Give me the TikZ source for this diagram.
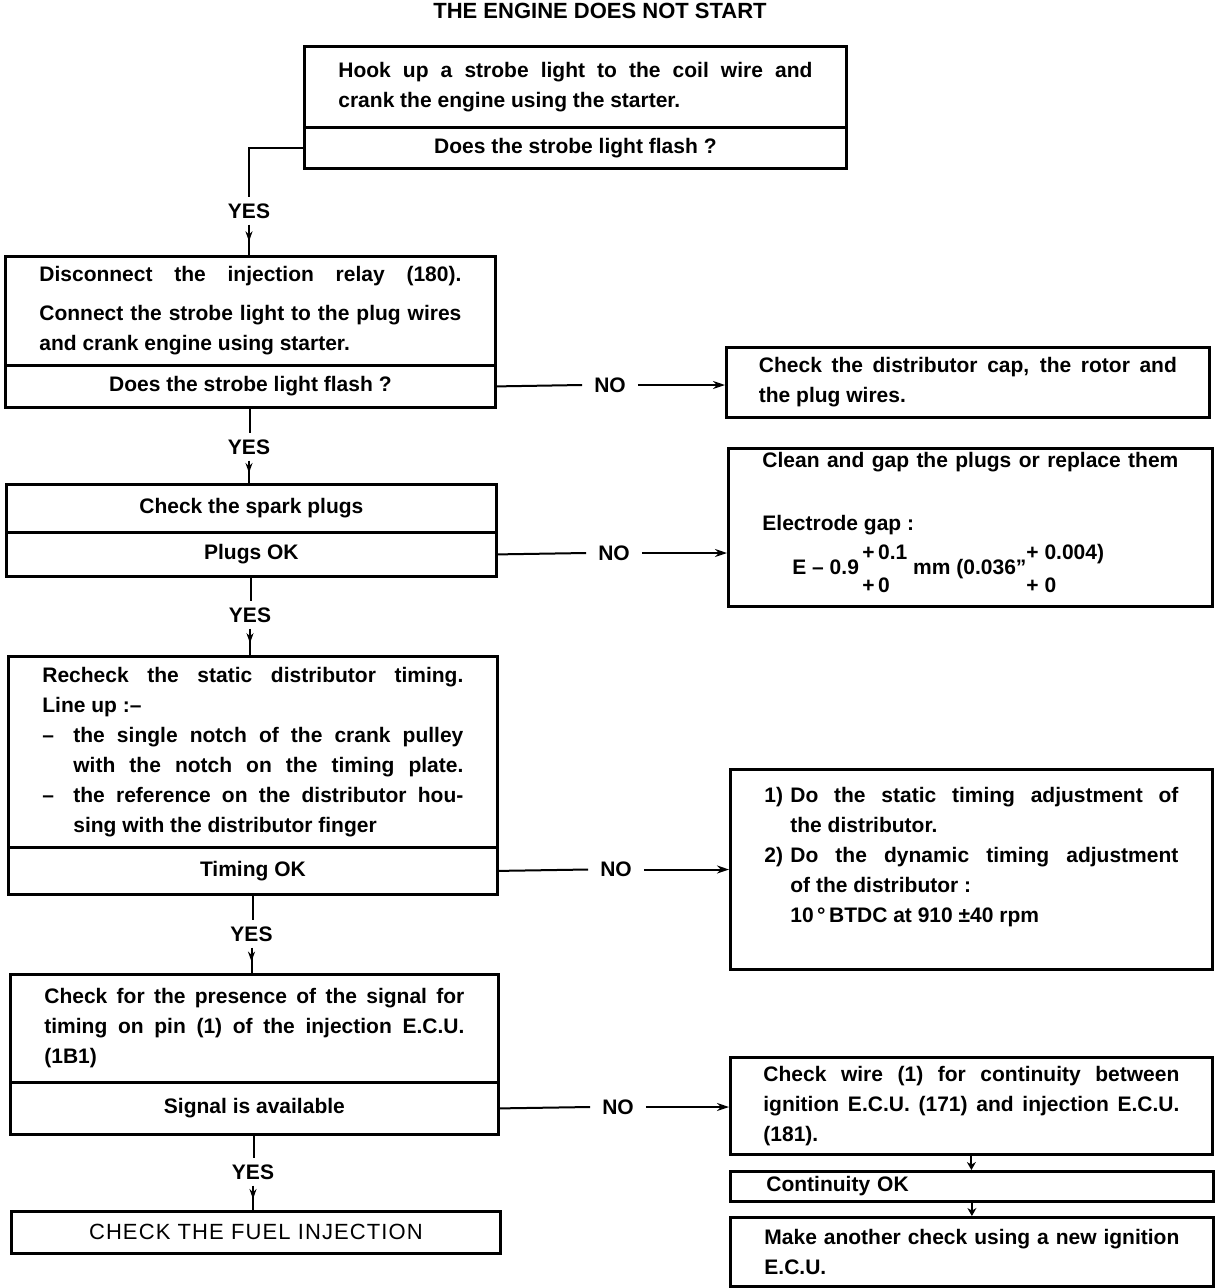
\documentclass[tikz,border=0pt]{standalone}
\usepackage{fontspec}
\setmainfont{Liberation Sans}
\usetikzlibrary{arrows.meta,decorations.markings}
\newcommand\jl[2]{\makebox[#1][s]{#2}}
\newcommand\stk[2]{$\vcenter{\hbox{\def\arraystretch{1.1}\begin{tabular}{@{}l@{}}#1\\#2\end{tabular}}}$}
\newcommand\bodyfont{\fontsize{21}{30}\selectfont\bfseries}
\begin{document}
\begin{tikzpicture}[x=1pt,y=-1pt,
  box/.style={draw, line width=2.8pt, inner sep=0pt, anchor=north west, align=left, font=\bodyfont},
  conn/.style={line width=2pt},
  yeslbl/.style={inner xsep=2pt, inner ysep=6pt, font=\bodyfont},
  nolbl/.style={inner xsep=12pt, inner ysep=2pt, font=\bodyfont},
  midarrow/.style={postaction={decorate}, decoration={markings, mark=at position 0.55 with {\arrow{Stealth[length=10pt,width=7pt]}}}},
  noarrow/.style={-{Stealth[length=12pt,width=8pt]}},
  downarrow/.style={-{Stealth[length=8pt,width=9pt]}}
]
\useasboundingbox (0,0) rectangle (1216,1288);

\node[font=\fontsize{22}{30}\selectfont\bfseries] (T) at (600,11) {THE ENGINE DOES NOT START};

% left column
\node[box, minimum width=542pt, minimum height=81pt] (A1) at (303,45)
  {\jl{474pt}{Hook up a strobe light to the coil wire and}\\ crank the engine using the starter.};
\node[box, minimum width=542pt, minimum height=41pt] (A2) at (303,126) {\raisebox{-3pt}{Does the strobe light flash ?}};

\node[box, minimum width=490pt, minimum height=109pt] (B1) at (4,255)
  {\jl{422pt}{Disconnect the injection relay (180).}\\[9pt]\jl{422pt}{Connect the strobe light to the plug wires}\\ and crank engine using starter.};
\node[box, minimum width=490pt, minimum height=42pt] (B2) at (4,364) {Does the strobe light flash ?};

\node[box, minimum width=490pt, minimum height=48pt] (D1) at (5,483) {Check the spark plugs};
\node[box, minimum width=490pt, minimum height=44pt] (D2) at (5,531) {Plugs OK};

\node[box, minimum width=489pt, minimum height=191pt] (F1) at (7,655)
  {\jl{421pt}{Recheck the static distributor timing.}\\
   Line up :–\\
   \makebox[31pt][l]{–}\jl{390pt}{the single notch of the crank pulley}\\
   \hspace*{31pt}\jl{390pt}{with the notch on the timing plate.}\\
   \makebox[31pt][l]{–}\jl{390pt}{the reference on the distributor hou-}\\
   \hspace*{31pt}sing with the distributor finger};
\node[box, minimum width=489pt, minimum height=47pt] (F2) at (7,846) {\raisebox{-3pt}{Timing OK}};

\node[box, minimum width=488pt, minimum height=108pt] (H1) at (9,973)
  {\jl{420pt}{Check for the presence of the signal for}\\
   \jl{420pt}{timing on pin (1) of the injection E.C.U.}\\
   (1B1)};
\node[box, minimum width=488pt, minimum height=52pt] (H2) at (9,1081) {Signal is available};

\node[box, minimum width=489pt, minimum height=42pt, font=\fontsize{22}{30}\selectfont\addfontfeature{LetterSpace=5}] (L) at (10,1210) {CHECK THE FUEL INJECTION};

% right column
\node[box, minimum width=483pt, minimum height=70pt] (C) at (725,346)
  {\jl{418pt}{Check the distributor cap, the rotor and}\\ the plug wires.};

\node[box, minimum width=484pt, minimum height=158pt] (E) at (727,447)
  {\jl{416pt}{Clean and gap the plugs or replace them}\\[33pt]
   Electrode gap :\\
   \hspace*{30pt}E – 0.9\,\stk{+\,0.1}{+\,0}\ mm (0.036”\stk{+ 0.004)}{+ 0}};

\node[box, minimum width=482pt, minimum height=200pt] (G) at (729,768)
  {\makebox[26pt][l]{1)}\jl{388pt}{Do the static timing adjustment of}\\
   \hspace*{26pt}the distributor.\\
   \makebox[26pt][l]{2)}\jl{388pt}{Do the dynamic timing adjustment}\\
   \hspace*{26pt}of the distributor :\\
   \hspace*{26pt}10\,°\,BTDC at 910 ±40 rpm\\
   \mbox{}};

\node[box, minimum width=482pt, minimum height=97pt] (I) at (729,1056)
  {\jl{416pt}{Check wire (1) for continuity between}\\
   \jl{416pt}{ignition E.C.U. (171) and injection E.C.U.}\\
   (181).};
\node[box, minimum width=483pt, minimum height=30pt, text width=411pt] (J) at (729,1170) {Continuity OK};
\node[box, minimum width=483pt, minimum height=69pt] (K) at (729,1216)
  {\jl{415pt}{Make another check using a new ignition}\\ E.C.U.};

% labels
\node[yeslbl] (y1) at (249,211) {YES};
\node[yeslbl] (y2) at (249,447) {YES};
\node[yeslbl] (y3) at (250,615) {YES};
\node[yeslbl] (y4) at (251.5,934) {YES};
\node[yeslbl] (y5) at (253,1172) {YES};
\node[nolbl] (n1) at (610,385) {NO};
\node[nolbl] (n2) at (614,553) {NO};
\node[nolbl] (n3) at (616,869.5) {NO};
\node[nolbl] (n4) at (618,1107) {NO};

% YES connectors
\draw[conn] (A2.west) -| (y1.north);
\draw[conn, midarrow] (y1.south) -- (y1.south |- B1.north);
\draw[conn] (B2.south) -- (B2.south |- y2.north);
\draw[conn, midarrow] (y2.south) -- (y2.south |- D1.north);
\draw[conn] (D2.south) -- (D2.south |- y3.north);
\draw[conn, midarrow] (y3.south) -- (y3.south |- F1.north);
\draw[conn] (F2.south) -- (F2.south |- y4.north);
\draw[conn, midarrow] (y4.south) -- (y4.south |- H1.north);
\draw[conn] (H2.south) -- (H2.south |- y5.north);
\draw[conn, midarrow] (y5.south) -- (y5.south |- L.north);

% NO connectors
\draw[conn] (B2.east) -- (n1.west);
\draw[conn, noarrow] (n1.east) -- (n1.east -| C.west);
\draw[conn] (D2.east) -- (n2.west);
\draw[conn, noarrow] (n2.east) -- (n2.east -| E.west);
\draw[conn] (F2.east) -- (n3.west);
\draw[conn, noarrow] (n3.east) -- (n3.east -| G.west);
\draw[conn] (H2.east) -- (n4.west);
\draw[conn, noarrow] (n4.east) -- (n4.east -| I.west);

% right column chain
\draw[conn, downarrow] (I.south) -- (I.south |- J.north);
\draw[conn, downarrow] (J.south) -- (J.south |- K.north);
\end{tikzpicture}
\end{document}
